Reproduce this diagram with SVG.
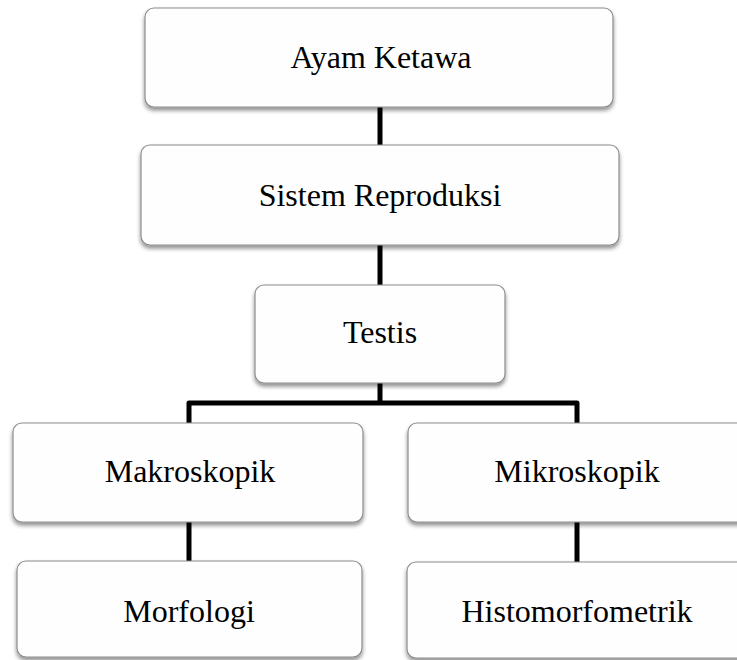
<svg xmlns="http://www.w3.org/2000/svg" width="737" height="660" viewBox="0 0 737 660">
<style>
.box{fill:#fefefe;stroke:#8c8c8c;stroke-width:1.2;filter:url(#sh)}
.lbl{font-family:"Liberation Serif","Times New Roman",serif;font-size:32px;fill:#000;text-anchor:middle}
.con{fill:none;stroke:#000;stroke-width:5;stroke-linejoin:round}
</style>
<defs>
<filter id="sh" x="-10%" y="-10%" width="120%" height="130%">
<feGaussianBlur in="SourceAlpha" stdDeviation="2.2"/>
<feOffset dx="0" dy="3" result="b"/>
<feComponentTransfer><feFuncA type="linear" slope="0.45"/></feComponentTransfer>
<feMerge><feMergeNode/><feMergeNode in="SourceGraphic"/></feMerge>
</filter>
</defs>
<rect width="737" height="660" fill="#fff"/>
<g id="connectors">
<path class="con" d="M380 107V146"/>
<path class="con" d="M380 245V286"/>
<path class="con" d="M380 383V403"/>
<path class="con" d="M189 424V403H577V424"/>
<path class="con" d="M189 522V562"/>
<path class="con" d="M577 522V563"/>
</g>
<g id="n1"><rect class="box" x="145" y="8" width="468" height="99" rx="9"/><text class="lbl" x="381" y="68">Ayam Ketawa</text></g>
<g id="n2"><rect class="box" x="141" y="145" width="478" height="100" rx="9"/><text class="lbl" x="380" y="206">Sistem Reproduksi</text></g>
<g id="n3"><rect class="box" x="255" y="285" width="250" height="98" rx="9"/><text class="lbl" x="380" y="343">Testis</text></g>
<g id="n4"><rect class="box" x="13" y="423" width="350" height="99" rx="9"/><text class="lbl" x="190" y="482">Makroskopik</text></g>
<g id="n5"><rect class="box" x="408" y="423" width="345" height="99" rx="9"/><text class="lbl" x="577" y="482">Mikroskopik</text></g>
<g id="n6"><rect class="box" x="17" y="561" width="345" height="96" rx="9"/><text class="lbl" x="189" y="622">Morfologi</text></g>
<g id="n7"><rect class="box" x="407" y="562" width="346" height="96" rx="9"/><text class="lbl" x="577" y="622">Histomorfometrik</text></g>
</svg>
